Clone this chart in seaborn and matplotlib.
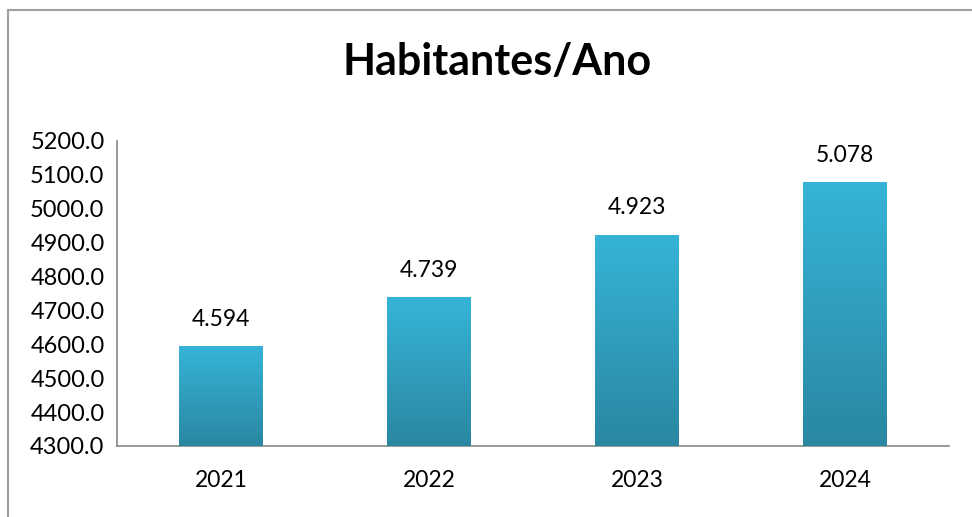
import numpy as np
import matplotlib
matplotlib.use("Agg")
import matplotlib.pyplot as plt
import seaborn as sb
from matplotlib.colors import LinearSegmentedColormap
from matplotlib.patches import Rectangle

anos = ['2021', '2022', '2023', '2024']
habitantes = [4594, 4739, 4923, 5078]
rotulos = ['4.594', '4.739', '4.923', '5.078']
y_ticks = [4300, 4400, 4500, 4600, 4700, 4800, 4900, 5000, 5100, 5200]

sb.set_style("white")
plt.rcParams['font.family'] = ['Lato', 'DejaVu Sans']

fig = plt.figure(figsize=(9.72, 5.17), dpi=100)
ax = fig.add_axes([117 / 972, 1 - 446 / 517, (949 - 117) / 972, (446 - 141) / 517])

sb.barplot(x=anos, y=habitantes, color='#33a9c9', width=0.40, ax=ax, zorder=2)

# gradient fill for the bars, light on top, darker at the base
cmap = LinearSegmentedColormap.from_list('bar', ['#2a87a1', '#36b4d8'])
grad = np.linspace(0, 1, 256).reshape(-1, 1)
for bar in ax.patches:
    x0, y0 = bar.get_x(), bar.get_y()
    w, h = bar.get_width(), bar.get_height()
    im = ax.imshow(grad, cmap=cmap, aspect='auto', origin='lower',
                   extent=[x0, x0 + w, 4300, y0 + h], zorder=3)
    im.set_clip_path(bar)
ax.set_ylim(4300, 5200)
ax.set_xlim(-0.5, 3.5)

for i, (v, txt) in enumerate(zip(habitantes, rotulos)):
    ax.annotate(txt, (i, v), xytext=(0, 12), textcoords='offset points',
                ha='center', va='bottom', fontsize=16.5, color='black')

ax.set_yticks(y_ticks)
ax.set_yticklabels([f"{t:.1f}" for t in y_ticks], fontsize=17, color='black')
ax.set_xticks([-0.5, 0.5, 1.5, 2.5, 3.5])
ax.set_xticklabels([])
ax.set_xticks(range(len(anos)), minor=True)
ax.set_xticklabels(anos, minor=True, fontsize=16.5, color='black')
ax.tick_params(axis='x', which='major', direction='out', length=8, color='#888888', width=1.2)
ax.tick_params(axis='x', which='minor', length=0, pad=17)
ax.tick_params(axis='y', direction='out', length=5, color='#888888', width=1.2, pad=4)

for s in ['top', 'right']:
    ax.spines[s].set_visible(False)
for s in ['left', 'bottom']:
    ax.spines[s].set_color('#888888')
    ax.spines[s].set_linewidth(1.2)

ax.set_xlabel('')
ax.set_ylabel('')
ax.set_title('')
fig.text(497 / 972, 1 - 62 / 517, 'Habitantes/Ano', ha='center', va='center',
         fontsize=31, fontweight='bold', color='black')

# outer chart frame, cut by the image edges
fig.patches.append(Rectangle((8 / 972, -0.1), 1.2, 1 - 10 / 517 + 0.1,
                             transform=fig.transFigure, fill=False,
                             edgecolor='#a0a0a0', linewidth=1.5))

fig.savefig('out.png', dpi=100)
